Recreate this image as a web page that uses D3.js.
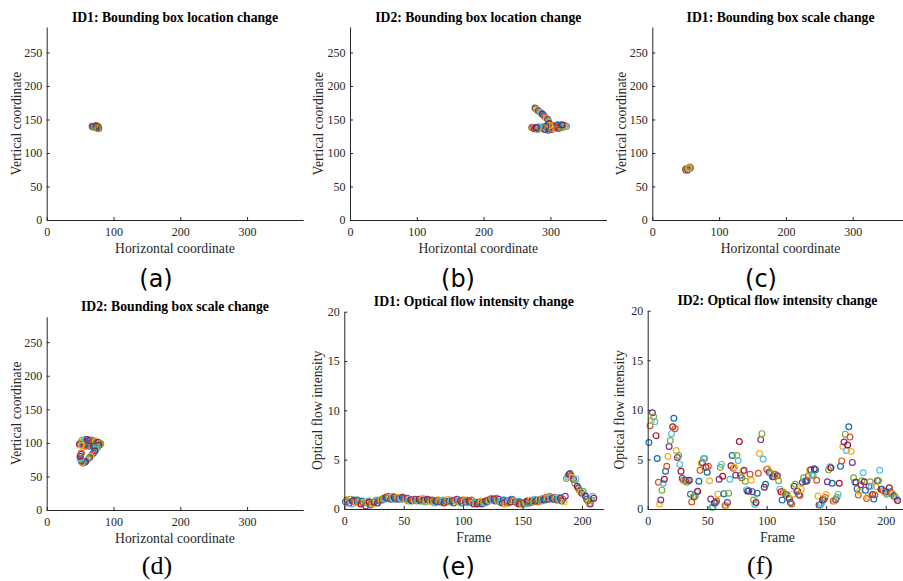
<!DOCTYPE html>
<html>
<head>
<meta charset="utf-8">
<script src="https://cdn.jsdelivr.net/npm/d3@7"></script>
<style>
  html, body { margin: 0; padding: 0; background: #fff; }
  svg { display: block; }
  .tick text { font-family: "Liberation Serif", "Times New Roman", serif; font-size: 12px; fill: #262626; }
  .domain, .tick line { stroke: #262626; stroke-width: 1; }
</style>
</head>
<body>
<svg id="fig" width="903" height="581"></svg>
<script>
// ---- data ----
// MATLAB default colour order, cycled over the points of each track
const colorOrder = ["#0072BD", "#D95319", "#EDB120", "#7E2F8E", "#77AC30", "#4DBEEE", "#A2142F"];

const coordTicksX = [0, 100, 200, 300];
const coordTicksY = [0, 50, 100, 150, 200, 250];
const frameTicks = [0, 50, 100, 150, 200];
const flowTicks = [0, 5, 10, 15, 20];

// ID1 bounding box centre (location)
const id1LocX = [68, 69, 70, 71, 72, 73, 74, 75, 74, 73, 72, 71, 72, 73, 74, 75, 76, 77, 76, 75, 74, 73, 72, 71, 70, 72, 73, 74, 75, 76, 77, 78, 77];
const id1LocY = [140, 139, 139, 140, 140, 139, 139, 140, 141, 140, 139, 139, 138, 138, 139, 139, 140, 139, 138, 139, 140, 140, 139, 139, 139, 138, 139, 140, 139, 138, 137, 137, 136];

// ID2 bounding box centre (location)
const id2LocX = [277, 278, 280, 282, 284, 286, 288, 290, 292, 294, 296, 297, 298, 298, 297, 296,
  294, 290, 286, 282, 278, 274, 272, 275, 280, 285, 290, 295, 300, 303, 306, 309, 312, 315, 318, 321,
  324, 322, 319, 316, 313, 310, 307, 304, 301, 298, 296, 300, 305, 310, 315, 320,
  276, 281, 287, 292, 297, 302, 308, 313, 318, 323, 317, 311, 305, 299, 293, 288, 283, 279];
const id2LocY = [167, 166, 164, 163, 161, 160, 158, 156, 154, 152, 150, 148, 146, 144, 142, 140,
  139, 138, 138, 137, 137, 138, 138, 137, 137, 137, 138, 139, 138, 139, 140, 141, 140, 139, 140, 141,
  140, 139, 141, 140, 139, 138, 137, 139, 138, 137, 136, 137, 138, 139, 140, 139,
  136, 135, 136, 135, 134, 135, 136, 137, 138, 139, 142, 142, 141, 141, 140, 139, 139, 138];

// ID1 bounding box size (scale)
const id1ScaleX = [50, 51, 52, 51, 50, 52, 53, 54, 55, 56, 55, 54, 53, 52, 51, 50, 52, 53, 54, 55, 56, 57, 56, 55];
const id1ScaleY = [75, 76, 75, 74, 76, 75, 76, 77, 77, 78, 78, 77, 76, 75, 76, 75, 74, 75, 76, 77, 78, 78, 79, 78];

// ID2 bounding box size (scale)
const id2ScaleX = [50, 52, 54, 56, 58, 60, 62, 64, 66, 68, 70, 72, 74, 76, 78, 80, 79, 77, 75, 73, 71, 69, 67, 65, 63, 61, 59, 57, 55, 53, 51, 49,
  53, 57, 61, 65, 69, 73, 77, 81, 75, 70, 64, 58, 52,
  78, 76, 74, 72, 70, 68, 66, 64, 62, 60, 58, 56, 54, 53, 52, 51, 50, 50, 51, 52];
const id2ScaleY = [99, 100, 101, 101, 102, 102, 103, 103, 102, 102, 101, 101, 100, 100, 99, 98, 97, 97, 98, 98, 98, 97, 97, 98, 99, 98, 97, 97, 98, 98, 99, 98,
  104, 105, 105, 104, 104, 103, 101, 99, 95, 95, 95, 95, 96,
  96, 93, 90, 88, 85, 83, 80, 78, 76, 74, 72, 71, 70, 71, 73, 75, 77, 80, 83, 85];

// Optical flow intensity per frame (frames 1..210)
const id1Flow = [
  0.7, 0.9, 0.8, 0.6, 1.0, 0.5, 0.8, 0.9, 0.7, 0.6, 0.9, 0.8, 0.7, 0.5, 0.8, 0.6, 0.7, 0.3, 0.6, 0.8, 0.7, 0.4, 0.6, 0.5, 0.7, 0.8, 0.9, 0.6, 0.8, 0.9,
  1.0, 0.9, 1.1, 1.0, 1.2, 1.1, 1.3, 1.2, 1.0, 1.1, 1.3, 1.2, 1.0, 1.1, 1.2, 1.0, 1.1, 1.0, 1.2, 1.1,
  1.0, 0.9, 1.1, 0.8, 1.0, 0.9, 0.8, 1.0, 0.9, 1.0, 0.8, 0.9, 1.0, 0.8, 0.9, 1.1, 0.9, 0.7, 0.8, 1.0, 0.9, 0.8, 0.7, 0.9, 0.8, 0.6, 0.8, 0.7, 0.9, 0.8,
  0.7, 0.8, 0.9, 0.6, 0.8, 0.7, 1.0, 0.8, 0.7, 0.9, 0.8, 0.6, 0.9, 0.8, 1.0, 0.7, 0.9, 0.8, 0.6, 0.9, 0.8, 0.7, 0.9, 0.6, 0.8, 0.7, 0.9, 0.6, 0.5, 0.7, 0.6, 0.5, 0.7, 0.6, 0.8, 0.5, 0.7, 0.6, 0.8, 0.7,
  0.9, 0.8, 1.0, 1.1, 0.9, 1.0, 0.8, 1.1, 0.9, 1.0, 0.7, 0.8, 0.6, 0.9, 0.7, 0.5, 0.8, 0.6, 0.9, 0.7, 1.0, 0.9, 0.8, 0.7, 0.6, 0.8, 0.5, 0.7, 0.6, 0.4,
  0.6, 0.7, 0.5, 0.8, 0.7, 0.6, 0.9, 0.8, 0.7, 1.0, 0.8, 0.9, 0.7, 1.0, 0.9, 0.8, 1.1, 1.0, 0.9, 1.2, 1.1, 1.0, 1.3, 1.2, 1.1, 1.0, 1.2, 1.1, 0.9, 1.0, 1.2, 1.1, 0.8, 1.0, 0.7,
  1.3, 3.1, 3.3, 3.5, 3.6, 3.4, 3.2, 3.0, 2.6, 3.05, 2.3, 2.1, 1.9, 1.7, 1.6, 1.8, 1.5, 1.3, 1.0, 0.8, 0.6, 0.5, 0.9, 1.3, 1.1
];
const id2Flow = [
  6.7, 8.4, 8.9, 9.7, 9.3, 8.8, 7.4, 5.1, 2.7, 0.5, 0.9, 1.9, 2.6, 3.0, 3.8, 4.3, 5.3, 6.3, 6.9, 7.6,
  8.3, 9.15, 8.1, 5.9, 5.2, 5.4, 4.5, 3.8, 3.1, 2.9, 2.8, 2.9, 2.7, 2.85, 2.9, 1.5, 0.7, 1.25, 1.2, 1.3,
  1.7, 1.8, 2.8, 3.9, 4.6, 4.7, 5.1, 5.1, 4.2, 3.7, 4.3, 2.85, 1.0, 0.15, 0.2, 0.6, 0.65, 0.8, 1.5, 3.0,
  4.2, 4.5, 3.3, 1.55, 0.35, 0.35, 0.65, 1.6, 3.0, 4.35, 5.4, 4.1, 4.2, 3.4, 5.4, 4.9, 6.8, 3.4, 3.15, 3.8,
  3.9, 2.8, 1.95, 1.8, 1.85, 3.5, 2.9, 1.75, 0.9, 0.45, 0.65, 1.6, 3.6, 5.6, 7.0, 7.6, 5.05, 2.2, 2.5, 4.0,
  4.05, 3.7, 3.65, 3.5, 3.25, 3.25, 3.5, 3.4, 3.35, 2.85, 2.0, 1.75, 0.9, 1.7, 1.6, 1.5, 1.45, 1.15, 1.05, 0.65,
  0.5, 1.5, 2.3, 2.5, 1.8, 1.8, 1.45, 1.35, 2.0, 2.7, 3.15, 2.85, 2.8, 2.85, 3.35, 3.9, 3.95, 3.45, 3.35, 4.05,
  3.95, 2.9, 1.3, 0.4, 0.4, 0.55, 0.9, 0.95, 1.15, 1.45, 2.75, 3.95, 4.25, 4.15, 2.6, 0.8, 0.8, 0.95, 1.15, 1.5,
  2.6, 4.3, 4.85, 6.3, 6.75, 7.55, 5.9, 6.45, 8.3, 7.25, 5.8, 4.7, 3.15, 2.7, 2.7, 2.05, 1.4, 1.8, 2.45, 2.85,
  3.65, 2.75, 1.9, 1.05, 1.25, 2.3, 2.75, 2.3, 1.45, 1.0, 1.4, 2.25, 2.85, 2.85, 3.9, 2.0, 2.0, 1.85, 1.7, 1.75,
  1.5, 1.6, 2.15, 1.75, 1.6, 1.55, 1.3, 1.2, 1.05, 0.85
];

// ---- drawing ----
const svg = d3.select("#fig");
const frames = id => d3.range(1, id.length + 1);

const panels = [
  { title: "ID1: Bounding box location change", left: 46.7, top: 27, width: 256.5, height: 193,
    xDomain: [0, 384], yDomain: [0, 288], xTicks: coordTicksX, yTicks: coordTicksY,
    xLabel: "Horizontal coordinate", yLabel: "Vertical coordinate", ylOff: 26,
    xs: id1LocX, ys: id1LocY, tag: "(a)", tagSerif: false, tagX: 156, tagY: 287 },
  { title: "ID2: Bounding box location change", left: 350, top: 27, width: 256.5, height: 193,
    xDomain: [0, 384], yDomain: [0, 288], xTicks: coordTicksX, yTicks: coordTicksY,
    xLabel: "Horizontal coordinate", yLabel: "Vertical coordinate", ylOff: 27,
    xs: id2LocX, ys: id2LocY, tag: "(b)", tagSerif: false, tagX: 458, tagY: 287 },
  { title: "ID1: Bounding box scale change", left: 652.3, top: 27, width: 256.5, height: 193,
    xDomain: [0, 384], yDomain: [0, 288], xTicks: coordTicksX, yTicks: coordTicksY,
    xLabel: "Horizontal coordinate", yLabel: "Vertical coordinate", ylOff: 26,
    xs: id1ScaleX, ys: id1ScaleY, tag: "(c)", tagSerif: false, tagX: 761, tagY: 287 },
  { title: "ID2: Bounding box scale change", left: 46.7, top: 316.7, width: 256.5, height: 193.3,
    xDomain: [0, 384], yDomain: [0, 288], xTicks: coordTicksX, yTicks: coordTicksY,
    xLabel: "Horizontal coordinate", yLabel: "Vertical coordinate", ylOff: 26,
    xs: id2ScaleX, ys: id2ScaleY, tag: "(d)", tagSerif: true, tagX: 157, tagY: 573.5 },
  { title: "ID1: Optical flow intensity change", left: 344.3, top: 311.7, width: 259, height: 197.3,
    xDomain: [0, 218], yDomain: [0, 20], xTicks: frameTicks, yTicks: flowTicks,
    xLabel: "Frame", yLabel: "Optical flow intensity", ylOff: 22,
    xs: frames(id1Flow), ys: id1Flow, tag: "(e)", tagSerif: false, tagX: 458, tagY: 575 },
  { title: "ID2: Optical flow intensity change", left: 647.7, top: 310.7, width: 259.4, height: 198.3,
    xDomain: [0, 218], yDomain: [0, 20], xTicks: frameTicks, yTicks: flowTicks,
    xLabel: "Frame", yLabel: "Optical flow intensity", ylOff: 23.5,
    xs: frames(id2Flow), ys: id2Flow, tag: "(f)", tagSerif: true, tagX: 760, tagY: 573.5 }
];

panels.forEach(p => {
  const x = d3.scaleLinear().domain(p.xDomain).range([0, p.width]);
  const y = d3.scaleLinear().domain(p.yDomain).range([p.height, 0]);
  const g = svg.append("g").attr("transform", `translate(${p.left},${p.top})`);

  // markers: open circles, colour cycling through the colour order
  g.append("g").selectAll("circle")
    .data(p.xs.map((v, i) => ({ x: v, y: p.ys[i], i })))
    .join("circle")
    .attr("cx", d => x(d.x))
    .attr("cy", d => y(d.y))
    .attr("r", 2.9)
    .attr("fill", "none")
    .attr("stroke", d => colorOrder[d.i % colorOrder.length])
    .attr("stroke-width", 1.2);

  // axes with inward ticks, no box
  g.append("g").attr("transform", `translate(0,${p.height})`)
    .call(d3.axisBottom(x).tickValues(p.xTicks).tickFormat(d3.format("d"))
      .tickSizeInner(-3).tickSizeOuter(0).tickPadding(7));
  g.append("g")
    .call(d3.axisLeft(y).tickValues(p.yTicks).tickFormat(d3.format("d"))
      .tickSizeInner(-3).tickSizeOuter(0).tickPadding(4.5));

  // title
  g.append("text")
    .attr("x", p.width / 2).attr("y", -5.5)
    .attr("text-anchor", "middle")
    .style("font-family", "'Liberation Serif', 'Times New Roman', serif")
    .style("font-weight", "bold").style("font-size", "13.7px").style("fill", "#000")
    .text(p.title);

  // axis labels
  g.append("text")
    .attr("x", p.width / 2).attr("y", p.height + 33)
    .attr("text-anchor", "middle")
    .style("font-family", "'Liberation Serif', 'Times New Roman', serif")
    .style("font-size", "13.7px").style("fill", "#262626")
    .text(p.xLabel);
  g.append("text")
    .attr("transform", `translate(${-p.ylOff},${p.height / 2}) rotate(-90)`)
    .attr("text-anchor", "middle")
    .style("font-family", "'Liberation Serif', 'Times New Roman', serif")
    .style("font-size", "13.7px").style("fill", "#262626")
    .text(p.yLabel);

  // sub-figure tag
  svg.append("text")
    .attr("x", p.tagX).attr("y", p.tagY)
    .attr("text-anchor", "middle")
    .style("font-family", p.tagSerif ? "'Liberation Serif', serif" : "'DejaVu Sans', sans-serif")
    .style("font-size", p.tagSerif ? "26px" : "24px").style("fill", "#000")
    .text(p.tag);
});
</script>
</body>
</html>
